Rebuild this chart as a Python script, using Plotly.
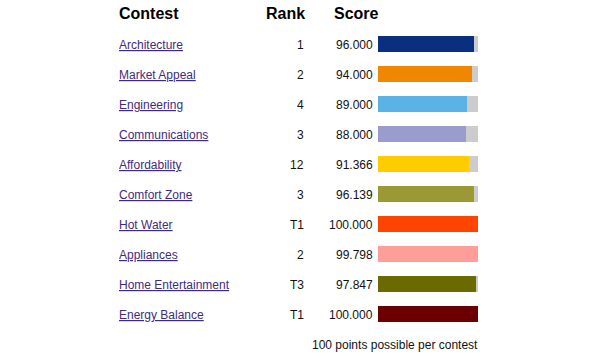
import plotly.graph_objects as go

contests = ["Architecture", "Market Appeal", "Engineering", "Communications", "Affordability",
            "Comfort Zone", "Hot Water", "Appliances", "Home Entertainment", "Energy Balance"]
ranks = ["1", "2", "4", "3", "12", "3", "T1", "2", "T3", "T1"]
scores = [96.000, 94.000, 89.000, 88.000, 91.366, 96.139, 100.000, 99.798, 97.847, 100.000]
possible = [100] * 10
colors = ["#0a2f7f", "#f08700", "#5ab3e6", "#9a9ccd", "#ffcc00",
          "#9a9933", "#ff4400", "#ff9e99", "#6b6a00", "#6b0000"]

FONT = "Liberation Sans, Arial, Helvetica, sans-serif"
idx = list(range(len(contests)))

fig = go.Figure()
fig.add_trace(go.Bar(x=possible, y=idx, orientation="h", marker=dict(color="#cccccc", line=dict(width=0)),
                     width=0.54, hoverinfo="skip", showlegend=False))
fig.add_trace(go.Bar(x=scores, y=idx, orientation="h", marker=dict(color=colors, line=dict(width=0)),
                     width=0.54, showlegend=False, customdata=contests,
                     hovertemplate="%{customdata}: %{x:.3f}<extra></extra>"))

ann = []
for i, (c, r, s) in enumerate(zip(contests, ranks, scores)):
    ann.append(dict(x=-2.61, y=i, xref="paper", yref="y", text="<u>" + c + "</u>", showarrow=False,
                    xanchor="left", yanchor="middle", yshift=-1,
                    font=dict(family=FONT, size=12, color="#3f2a86")))
    ann.append(dict(x=-0.725, y=i, xref="paper", yref="y", text=r, showarrow=False,
                    xanchor="right", yanchor="middle", yshift=-1,
                    font=dict(family=FONT, size=12, color="#111111")))
    ann.append(dict(x=-0.035, y=i, xref="paper", yref="y", text=f"{s:.3f}", showarrow=False,
                    xanchor="right", yanchor="middle", yshift=-1,
                    font=dict(family=FONT, size=12, color="#111111")))

hdr = dict(family=FONT, size=16, color="#000000")
ann.append(dict(x=-2.61, y=1.05, xref="paper", yref="paper", text="<b>Contest</b>", showarrow=False,
                xanchor="left", yanchor="middle", font=hdr))
ann.append(dict(x=-0.71, y=1.05, xref="paper", yref="paper", text="<b>Rank</b>", showarrow=False,
                xanchor="right", yanchor="middle", font=hdr))
ann.append(dict(x=-0.465, y=1.05, xref="paper", yref="paper", text="<b>Score</b>", showarrow=False,
                xanchor="left", yanchor="middle", font=hdr))
ann.append(dict(x=1.02, y=-0.053, xref="paper", yref="paper", text="100 points possible per contest",
                showarrow=False, xanchor="right", yanchor="middle",
                font=dict(family=FONT, size=12, color="#111111")))

fig.update_layout(
    width=600, height=358,
    margin=dict(l=378, r=122, t=29, b=29),
    paper_bgcolor="white", plot_bgcolor="white",
    barmode="overlay", bargap=0,
    xaxis=dict(range=[0, 100], visible=False, fixedrange=True),
    yaxis=dict(range=[9.5, -0.5], visible=False, fixedrange=True),
    annotations=ann,
    font=dict(family=FONT),
)

fig.write_html("out.html", config={"displayModeBar": False})
